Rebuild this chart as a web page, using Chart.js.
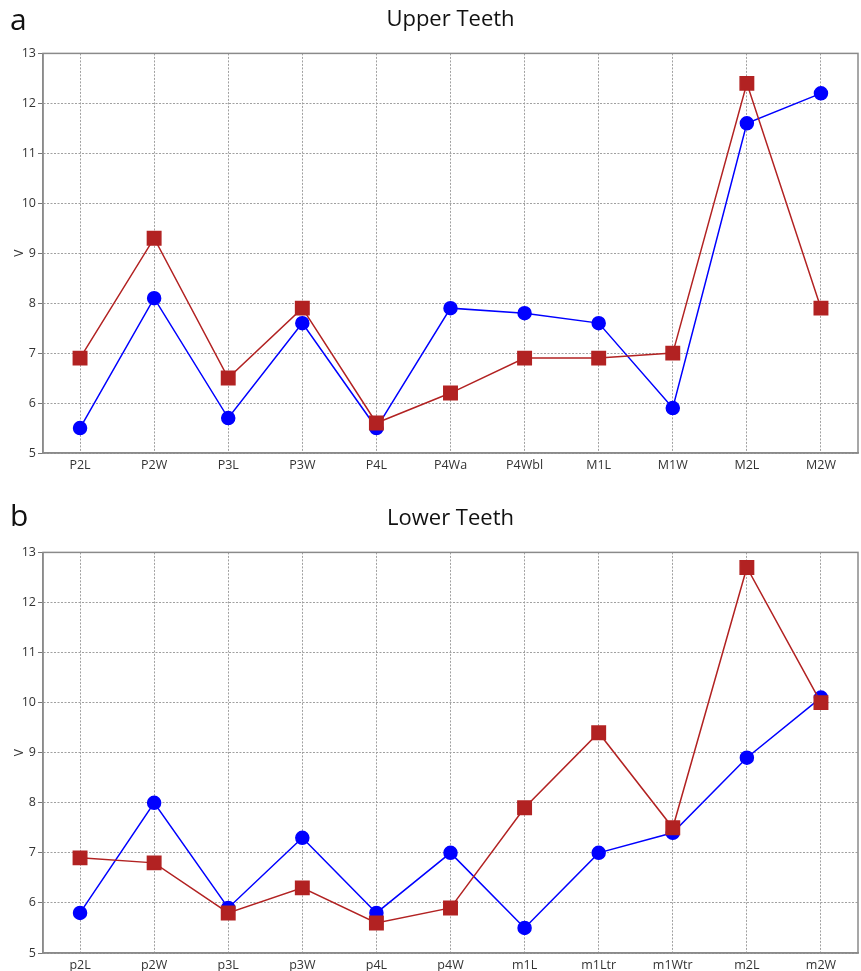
<!DOCTYPE html>
<html>
<head>
<meta charset="utf-8">
<script src="https://cdn.jsdelivr.net/npm/chart.js@4.4.0/dist/chart.umd.min.js"></script>
<style>
  body { margin: 0; background: #fff; font-family: "Open Sans", sans-serif; overflow: hidden; }
  .panel { position: absolute; left: 0; width: 861px; }
  .tag { position: absolute; left: 10px; font-size: 30px; color: #111; line-height: 1; }
</style>
</head>
<body>
<div class="panel" style="top:0;height:485px"><canvas id="upper"></canvas></div>
<div class="panel" style="top:485px;height:486px"><canvas id="lower"></canvas></div>
<div class="tag" style="top:4px">a</div>
<div class="tag" style="top:500px">b</div>
<script>
// upper teeth
const upperLabels = ["P2L", "P2W", "P3L", "P3W", "P4L", "P4Wa", "P4Wbl", "M1L", "M1W", "M2L", "M2W"];
const upperBlue = [5.5, 8.1, 5.7, 7.6, 5.5, 7.9, 7.8, 7.6, 5.9, 11.6, 12.2];
const upperRed = [6.9, 9.3, 6.5, 7.9, 5.6, 6.2, 6.9, 6.9, 7.0, 12.4, 7.9];

// lower teeth
const lowerLabels = ["p2L", "p2W", "p3L", "p3W", "p4L", "p4W", "m1L", "m1Ltr", "m1Wtr", "m2L", "m2W"];
const lowerBlue = [5.8, 8.0, 5.9, 7.3, 5.8, 7.0, 5.5, 7.0, 7.4, 8.9, 10.1];
const lowerRed = [6.9, 6.8, 5.8, 6.3, 5.6, 5.9, 7.9, 9.4, 7.5, 12.7, 10.0];

const yTicks = [5, 6, 7, 8, 9, 10, 11, 12, 13];

// box around the plot area
const frame = {
    id: "frame",
    afterDatasetsDraw(chart) {
        const a = chart.chartArea;
        const ctx = chart.ctx;
        ctx.save();
        ctx.strokeStyle = "#8a8a8a";
        ctx.lineWidth = 1.5;
        ctx.strokeRect(a.left, a.top, a.right - a.left, a.bottom - a.top);
        ctx.restore();
    }
};

function makeChart(id, title, labels, blue, red, topPad, xHeight) {
    return new Chart(document.getElementById(id), {
        type: "line",
        data: {
            labels: labels,
            datasets: [
                {
                    label: "blue",
                    data: blue,
                    borderColor: "#0000ff",
                    backgroundColor: "#0000ff",
                    borderWidth: 1.5,
                    pointStyle: "circle",
                    pointRadius: 6.5,
                    pointHoverRadius: 6.5,
                    order: 1
                },
                {
                    label: "red",
                    data: red,
                    borderColor: "#b22222",
                    backgroundColor: "#b22222",
                    borderWidth: 1.5,
                    pointStyle: "rect",
                    pointRadius: 9.5,
                    pointHoverRadius: 9.5,
                    order: 0
                }
            ]
        },
        options: {
            responsive: true,
            maintainAspectRatio: false,
            animation: false,
            layout: {
                autoPadding: false,
                padding: { top: topPad, left: 0, right: 3, bottom: 0 }
            },
            plugins: {
                legend: { display: false },
                tooltip: { enabled: false },
                title: {
                    display: true,
                    text: title,
                    fullSize: false,
                    color: "#111",
                    font: { family: "Open Sans", size: 22, weight: "normal" },
                    padding: { top: 7, bottom: 20 }
                }
            },
            scales: {
                x: {
                    offset: true,
                    afterFit: s => {
                        s.height = xHeight;
                        s.paddingLeft = 0;
                        s.paddingRight = 0;
                    },
                    grid: {
                        offset: false,
                        color: "#a0a0a0",
                        drawTicks: false
                    },
                    border: { color: "#8a8a8a", width: 1.5, dash: [2, 1.5] },
                    ticks: {
                        padding: 5,
                        color: "#333",
                        font: { family: "Open Sans", size: 12.5 },
                        maxRotation: 0,
                        autoSkip: false
                    }
                },
                y: {
                    min: yTicks[0],
                    max: yTicks[yTicks.length - 1],
                    afterFit: s => { s.width = 43; },
                    afterBuildTicks: s => { s.ticks = yTicks.map(v => ({ value: v })); },
                    title: {
                        display: true,
                        text: "V",
                        color: "#333",
                        font: { family: "Open Sans", size: 12 },
                        padding: { top: 12, bottom: 0 }
                    },
                    grid: {
                        color: "#a0a0a0",
                        tickLength: 5,
                        tickColor: "#777",
                        tickBorderDash: []
                    },
                    border: { color: "#8a8a8a", width: 1.5, dash: [2, 1.5] },
                    ticks: {
                        padding: 2,
                        color: "#333",
                        font: { family: "Open Sans", size: 12.5 }
                    }
                }
            }
        },
        plugins: [frame]
    });
}

makeChart("upper", "Upper Teeth", upperLabels, upperBlue, upperRed, 0, 32);
makeChart("lower", "Lower Teeth", lowerLabels, lowerBlue, lowerRed, 14, 18);
</script>
</body>
</html>
